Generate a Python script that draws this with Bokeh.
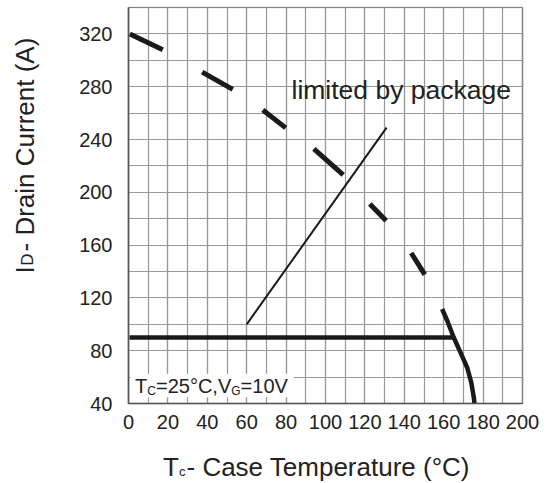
import numpy as np
from bokeh.plotting import figure
from bokeh.models import Range1d, SingleIntervalTicker, Label, BoxAnnotation
from bokeh.embed import file_html
from bokeh.resources import INLINE

# ---------------- data ----------------
x_start, x_end = 0, 200
y_start, y_end = 40, 340

# package-limit horizontal line
hline_x = [0.5, 165.0]
hline_y = [90.0, 90.0]

# pointer line from the "limited by package" note
pointer_x = [60.0, 131.0]
pointer_y = [100.0, 249.0]

# dashed derating curve (each dash: start/end)
dash_x = [[0.7, 17.4], [37.4, 52.9], [68.2, 79.8], [94.1, 109.0], [122.5, 130.8], [143.5, 150.4]]
dash_y = [[320.0, 308.0], [291.0, 278.0], [262.4, 248.8], [232.9, 213.2], [191.2, 178.5], [154.0, 137.6]]

# solid end of the derating curve
tail_x = [159.2, 161.8, 165.1, 168.5, 171.9, 174.0, 175.3, 175.6]
tail_y = [111.6, 102.7, 90.0, 78.7, 67.3, 55.9, 44.5, 40.0]

FONT = "Liberation Sans"
INK = "#1a1a1a"
TXT = "#222222"
GRID = "#999999"
FRAME = "#555555"

# canvas and plot-box geometry (px)
W, H = 546, 483
FL, FR, FT, FB = 128, 522, 7, 403
def px2x(px):
    return x_start + (px - FL) * (x_end - x_start) / (FR - FL)
def py2y(py):
    return y_start + (FB - py) * (y_end - y_start) / (FB - FT)

p = figure(width=W, height=H,
           x_range=Range1d(px2x(0), px2x(W)), y_range=Range1d(py2y(H), py2y(0)),
           output_backend="svg", toolbar_location=None,
           min_border_left=0, min_border_right=0, min_border_top=0, min_border_bottom=0)
p.background_fill_color = "white"
p.border_fill_color = "white"
p.outline_line_color = None

p.xaxis.ticker = SingleIntervalTicker(interval=20, num_minor_ticks=2)
p.yaxis.ticker = SingleIntervalTicker(interval=40, num_minor_ticks=2)
p.xaxis.fixed_location = y_start
p.xaxis.bounds = (x_start, x_end)
p.yaxis.fixed_location = x_start
p.yaxis.bounds = (y_start, y_end)
for ax in (p.xaxis, p.yaxis):
    ax.major_tick_line_color = None
    ax.minor_tick_line_color = None
    ax.axis_line_color = FRAME
    ax.axis_line_width = 1.5
    ax.major_label_text_font = FONT
    ax.major_label_text_font_size = "20px"
    ax.major_label_text_color = TXT
p.xaxis.major_label_standoff = 5
p.yaxis.major_label_standoff = 10

p.xgrid.cross_bounds = (y_start, y_end)
p.ygrid.cross_bounds = (x_start, x_end)
for g in (p.xgrid, p.ygrid):
    g.grid_line_color = GRID
    g.grid_line_width = 1.2
    g.minor_grid_line_color = GRID
    g.minor_grid_line_width = 1.2

# plot box border (top / right edges)
p.add_layout(BoxAnnotation(left=x_start, right=x_end, bottom=y_start, top=y_end,
                           fill_alpha=0, line_color=FRAME, line_width=1.5, level="underlay"))

p.line(hline_x, hline_y, line_width=4.5, color=INK)
p.line(pointer_x, pointer_y, line_width=2, color=INK)
p.multi_line(dash_x, dash_y, line_width=5, color=INK, line_cap="butt")
p.line(tail_x, tail_y, line_width=4.5, color=INK)

K = 0.33  # baseline correction (fraction of font size)

def lab(text, px, py, size, rotated=False):
    if rotated:
        px = px - K * size
        angle = np.pi / 2
    else:
        py = py - K * size
        angle = 0.0
    p.add_layout(Label(x=px2x(px), y=py2y(py), text=text, text_font=FONT,
                       text_font_size=f"{size}px", text_color=TXT, angle=angle,
                       text_align="left", text_baseline="alphabetic"))

# note
lab("limited by package", 291, 98.3, 26.5)

# condition box
p.add_layout(BoxAnnotation(left=px2x(130), right=px2x(293), bottom=py2y(396.7), top=py2y(373.3),
                           fill_color="white", fill_alpha=1.0, line_color=None))
lab("T", 134.6, 392.3, 20)
lab("C", 146.8, 394.3, 12)
lab("=25°C,V", 155.5, 392.3, 20)
lab("G", 230.8, 394.3, 12)
lab("=10V", 240.1, 392.3, 20)

# x title
lab("T", 162.5, 475, 26)
lab("c", 178.4, 475, 13)
lab("- Case Temperature (°C)", 186, 475, 26)

# y title (rotated, reads bottom to top)
lab("I", 33, 273, 26, True)
lab("D", 33, 265.3, 17, True)
lab("- Drain Current (A)", 33, 251, 26, True)

open("out.html", "w").write(file_html(p, INLINE))
